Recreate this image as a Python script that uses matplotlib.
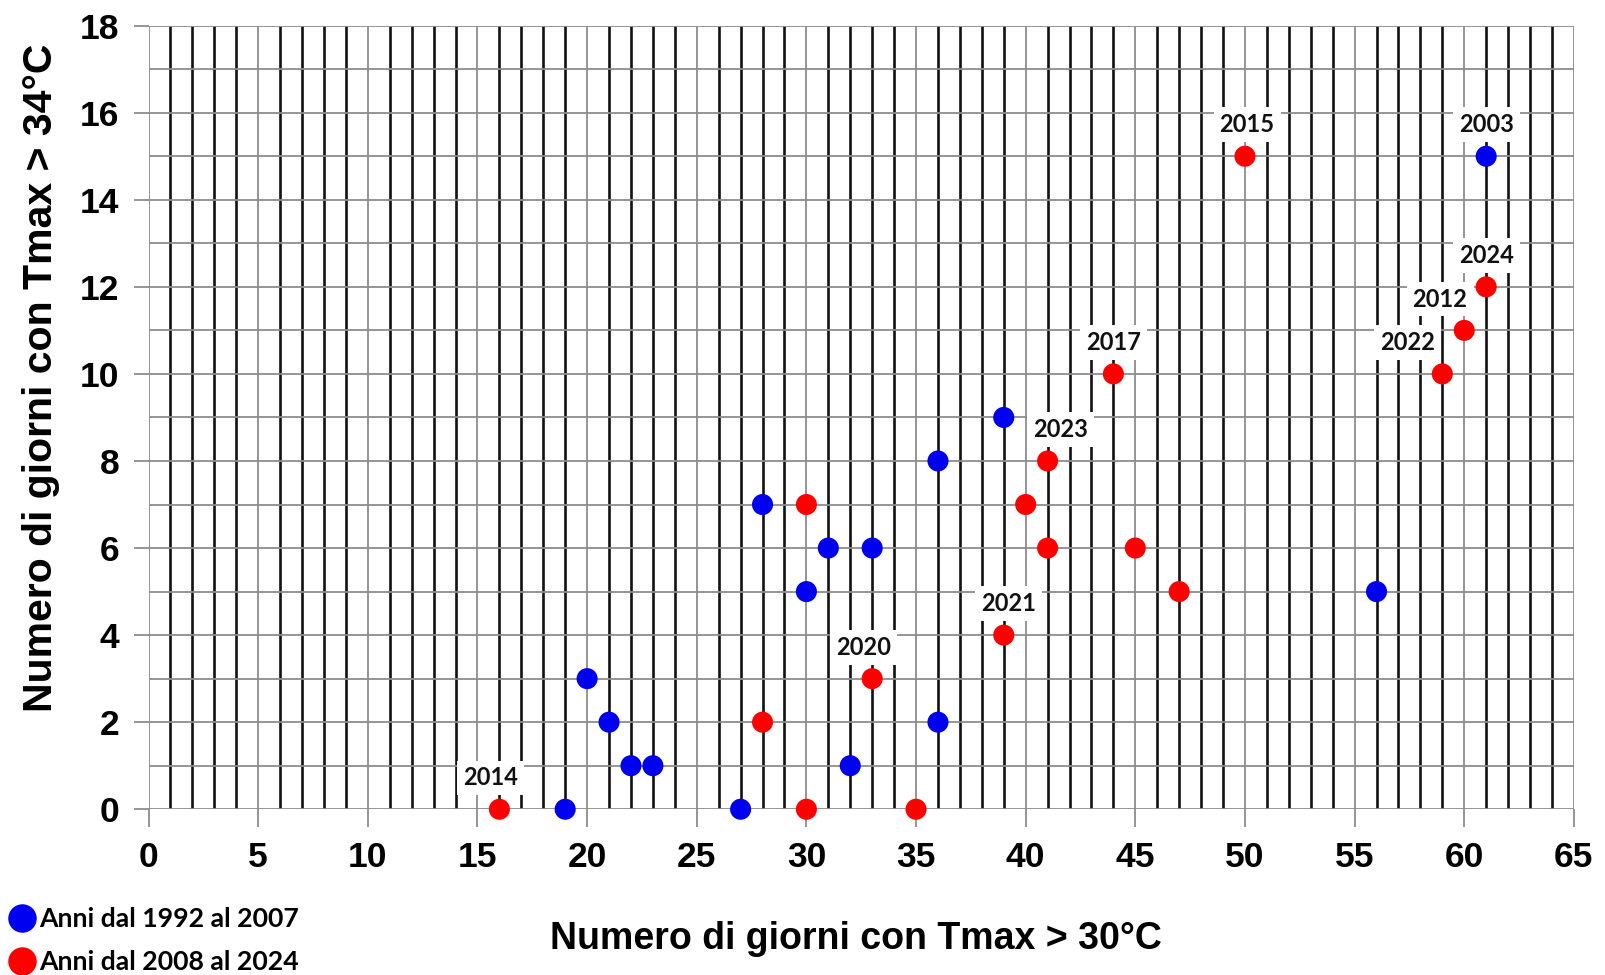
import matplotlib
matplotlib.use("Agg")
import matplotlib.pyplot as plt
from matplotlib.lines import Line2D

# Data
blue_x = [19, 20, 21, 22, 23, 27, 28, 30, 31, 32, 33, 36, 36, 39, 56, 61]
blue_y = [0, 3, 2, 1, 1, 0, 7, 5, 6, 1, 6, 8, 2, 9, 5, 15]
red_x = [16, 28, 30, 30, 33, 35, 39, 40, 41, 41, 44, 45, 47, 50, 59, 60, 61]
red_y = [0, 2, 7, 0, 3, 0, 4, 7, 8, 6, 10, 6, 5, 15, 10, 11, 12]

label_years = ["2014", "2020", "2021", "2023", "2017", "2015", "2022", "2012", "2024", "2003"]
label_x = [16, 33, 39, 41, 44, 50, 59, 60, 61, 61]
label_y = [0, 3, 4, 8, 10, 15, 10, 11, 12, 15]
label_dx = [-0.4, -0.4, 0.2, 0.6, 0.0, 0.1, -1.6, -1.1, 0.0, 0.0]

legend_labels = ["Anni dal 1992 al 2007", "Anni dal 2008 al 2024"]
xlabel = "Numero di giorni con Tmax > 30°C"
ylabel = "Numero di giorni con Tmax > 34°C"

fig = plt.figure(figsize=(16.06, 9.75), dpi=100)
ax = fig.add_axes([0.0925, 0.170, 0.8875, 0.8037])
ax.set_xlim(0, 65)
ax.set_ylim(0, 18)
for s in ax.spines.values():
    s.set_visible(False)

# grid
for i in range(0, 66):
    if i % 5 == 0:
        ax.axvline(i, color="#8c8c8c", lw=1.3, zorder=1)
    else:
        ax.axvline(i, color="#111111", lw=1.9, zorder=1)
for j in range(0, 19):
    ax.axhline(j, color="#8c8c8c", lw=1.3, zorder=1.5)

ax.set_xticks(range(0, 66, 5))
ax.set_yticks(range(0, 19, 2))
ax.tick_params(axis="x", length=13, width=1.3, color="#8c8c8c", pad=10)
ax.tick_params(axis="y", length=11, width=1.3, color="#8c8c8c", pad=10)
for lab in ax.get_xticklabels() + ax.get_yticklabels():
    lab.set_fontfamily("Liberation Sans")
    lab.set_fontweight("bold")
    lab.set_fontsize(25.5)

ax.scatter(blue_x, blue_y, s=230, color="#0000f0", edgecolors="none", zorder=4, clip_on=False)
ax.scatter(red_x, red_y, s=230, color="#ff0000", edgecolors="none", zorder=4, clip_on=False)

for t, x, y, dx in zip(label_years, label_x, label_y, label_dx):
    ax.text(x + dx, y + 0.72, t, ha="center", va="center", fontsize=17,
            fontfamily="Lato", fontweight="bold", color="#111111", zorder=3,
            bbox=dict(boxstyle="square,pad=0.25", fc="white", ec="none"))

fig.text(0.533, 0.037, xlabel, ha="center", va="center", fontsize=27,
         fontfamily="Liberation Sans", fontweight="bold")
fig.text(0.0255, 0.612, ylabel, ha="center", va="center", rotation=90, fontsize=29.5,
         fontfamily="Liberation Sans", fontweight="bold")

handles = [Line2D([], [], marker="o", ls="none", color="#0000f0", markersize=19.5),
           Line2D([], [], marker="o", ls="none", color="#ff0000", markersize=19.5)]
leg = fig.legend(handles, legend_labels, loc="lower left", bbox_to_anchor=(-0.009, -0.021),
                 frameon=False, handletextpad=0.1, labelspacing=0.72, borderpad=0.3,
                 handlelength=1.1, prop=dict(family="Lato", weight="bold", size=19.2))

fig.savefig("out.png", dpi=100)
